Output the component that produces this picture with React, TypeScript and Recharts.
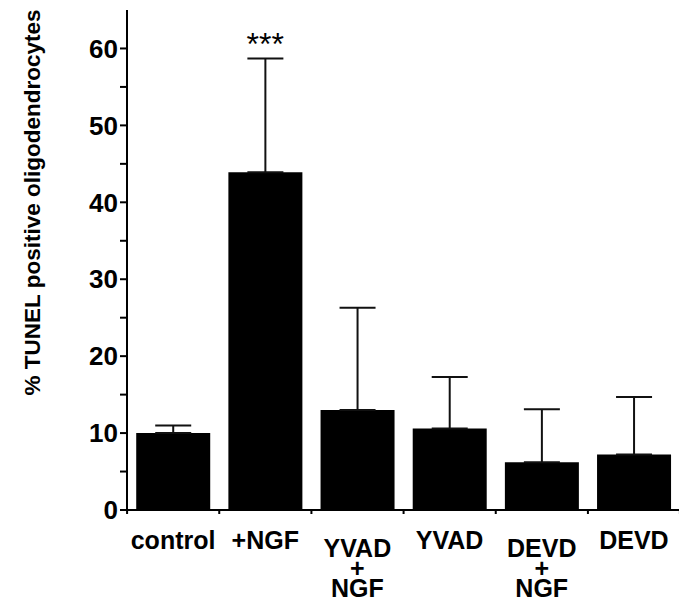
import { BarChart, Bar, XAxis, YAxis, ErrorBar, ReferenceDot } from "recharts"

// groups, as printed under the bars (one entry per text line)
const groups = ["control", "+NGF", "YVAD+NGF", "YVAD", "DEVD+NGF", "DEVD"]
const groupLines = [["control"], ["+NGF"], ["YVAD", "+", "NGF"], ["YVAD"], ["DEVD", "+", "NGF"], ["DEVD"]]

// % TUNEL positive oligodendrocytes, mean and upper error (SD)
const means = [10, 43.9, 13, 10.6, 6.2, 7.2]
const upperErr = [1, 14.8, 13.3, 6.7, 6.9, 7.5]

const yTicks = [0, 5, 10, 15, 20, 25, 30, 35, 40, 45, 50, 55, 60]
const sigGroup = "+NGF"
const sigText = "***"

const data = groups.map((g, i) => ({
  group: g,
  value: means[i],
  err: [0, upperErr[i]],
}))

const FONT = "'Liberation Sans', Arial, sans-serif"
const HALF_BAND = 46

function GroupTick(props: any) {
  const { x, y, payload, index } = props
  const lines: string[] = groupLines[index] || [payload.value]
  // single-line labels sit a little higher than the stacked ones
  const first = lines.length === 1 ? 39 : 47
  return (
    <g>
      <line x1={x - HALF_BAND} y1={y} x2={x - HALF_BAND} y2={y + 4} stroke="#000" strokeWidth={2} />
      {index === groups.length - 1 && (
        <line x1={x + HALF_BAND} y1={y} x2={x + HALF_BAND} y2={y + 4} stroke="#000" strokeWidth={2} />
      )}
      {lines.map((t, k) => (
        <text
          key={k}
          x={x}
          y={y + first + k * 20}
          textAnchor="middle"
          fontFamily={FONT}
          fontWeight="bold"
          fontSize={25}
          fill="#000"
        >
          {t}
        </text>
      ))}
    </g>
  )
}

function YLabel(props: any) {
  const { viewBox } = props
  const cx = viewBox.x - 15
  const cy = viewBox.y + viewBox.height * 0.385
  return (
    <text
      x={cx}
      y={cy}
      transform={`rotate(-90 ${cx} ${cy})`}
      textAnchor="middle"
      dominantBaseline="central"
      fontFamily={FONT}
      fontWeight="bold"
      fontSize={22.5}
      fill="#000"
    >
      % TUNEL positive oligodendrocytes
    </text>
  )
}

function Stars(props: any) {
  const { viewBox } = props
  return (
    <text
      x={viewBox.x + viewBox.width / 2}
      y={viewBox.y - 2}
      textAnchor="middle"
      fontFamily={FONT}
      fontSize={32}
      fill="#000"
    >
      {sigText}
    </text>
  )
}

export default function App() {
  const sigIdx = groups.indexOf(sigGroup)
  return (
    <div style={{ width: 679, height: 592 }}>
      <BarChart
        width={679}
        height={592}
        data={data}
        margin={{ top: 2, right: 7, bottom: 10, left: 39 }}
        barCategoryGap="10%"
        style={{ overflow: "visible" }}
      >
        <XAxis
          dataKey="group"
          height={80}
          axisLine={{ stroke: "#000", strokeWidth: 2 }}
          tickLine={false}
          tickSize={0}
          tickMargin={0}
          tick={<GroupTick />}
          interval={0}
        />
        <YAxis
          width={80}
          domain={[0, 65]}
          ticks={yTicks}
          interval={0}
          allowDataOverflow
          axisLine={{ stroke: "#000", strokeWidth: 2 }}
          tickLine={{ stroke: "#000", strokeWidth: 2 }}
          tickSize={7}
          tickFormatter={(v: number) => (v % 10 === 0 ? String(v) : "")}
          tick={{ fill: "#000", fontFamily: FONT, fontWeight: "bold", fontSize: 26 }}
          label={<YLabel />}
        />
        <Bar dataKey="value" fill="#000" isAnimationActive={false}>
          <ErrorBar dataKey="err" width={18} stroke="#111" strokeWidth={2} isAnimationActive={false} />
        </Bar>
        <ReferenceDot
          x={sigGroup}
          y={means[sigIdx] + upperErr[sigIdx]}
          r={1}
          fill="none"
          stroke="none"
          label={<Stars />}
        />
      </BarChart>
    </div>
  )
}
